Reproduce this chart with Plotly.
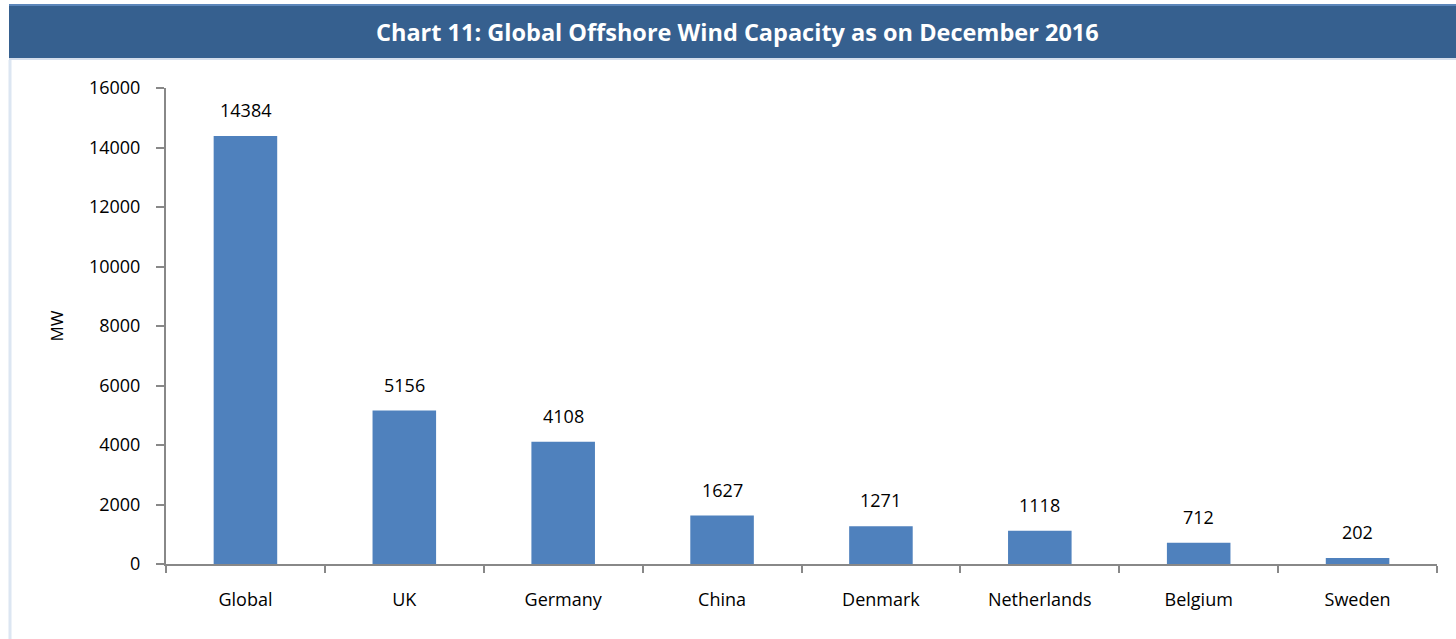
import plotly.graph_objects as go

categories = ["Global", "UK", "Germany", "China", "Denmark", "Netherlands", "Belgium", "Sweden"]
capacity_mw = [14384, 5156, 4108, 1627, 1271, 1118, 712, 202]
y_ticks = [0, 2000, 4000, 6000, 8000, 10000, 12000, 14000, 16000]

W, H = 1456, 639
L, R, T, B = 166, 19, 88, 75
pw, ph = W - L - R, H - T - B

def px_x(px):
    return (px - L) / pw

def px_y(py):
    return (H - B - py) / ph

fig = go.Figure(go.Bar(
    x=categories, y=capacity_mw,
    marker=dict(color="#4F81BD", line=dict(width=0)),
    hoverinfo="x+y",
))

for c, v in zip(categories, capacity_mw):
    fig.add_annotation(x=c, y=v, text=str(v), showarrow=False, yanchor="bottom",
                       yshift=12, font=dict(size=18, color="#000000"))

fig.update_layout(
    width=W, height=H,
    margin=dict(l=L, r=R, t=T, b=B),
    paper_bgcolor="white", plot_bgcolor="white",
    font=dict(family="Open Sans, Calibri, sans-serif", size=18, color="#000000"),
    bargap=0.6,
    showlegend=False,
    xaxis=dict(showline=True, linecolor="#888888", linewidth=2, ticks="outside",
               tickson="boundaries", ticklen=7, tickcolor="#888888", tickwidth=2,
               ticklabelstandoff=18, showgrid=False, tickfont=dict(size=18)),
    yaxis=dict(range=[0, 16000], tickvals=y_ticks, ticktext=[str(t) for t in y_ticks],
               showline=True, linecolor="#888888",
               linewidth=2, ticks="outside", ticklen=8, tickcolor="#888888", tickwidth=2,
               showgrid=False, zeroline=False, ticklabelstandoff=12,
               tickfont=dict(size=18),
               title=dict(text="MW", standoff=21, font=dict(size=17))),
    shapes=[
        dict(type="rect", xref="paper", yref="paper", x0=px_x(9), x1=px_x(1460),
             y0=px_y(58), y1=px_y(4), fillcolor="#36608F", line=dict(width=0), layer="below"),
        dict(type="line", xref="paper", yref="paper", x0=px_x(9), x1=px_x(1460),
             y0=px_y(5), y1=px_y(5), line=dict(color="#5C86BA", width=2)),
        dict(type="line", xref="paper", yref="paper", x0=px_x(9), x1=px_x(1460),
             y0=px_y(59), y1=px_y(59), line=dict(color="#D5DEEB", width=2)),
        dict(type="line", xref="paper", yref="paper", x0=px_x(10), x1=px_x(10),
             y0=px_y(60), y1=px_y(640), line=dict(color="#DCE6F2", width=3)),
    ],
)
fig.add_annotation(xref="paper", yref="paper", x=px_x(737), y=px_y(32),
                   text="<b>Chart 11: Global Offshore Wind Capacity as on December 2016</b>",
                   showarrow=False, font=dict(size=23.5, color="white"),
                   xanchor="center", yanchor="middle")

fig.write_html("out.html")
